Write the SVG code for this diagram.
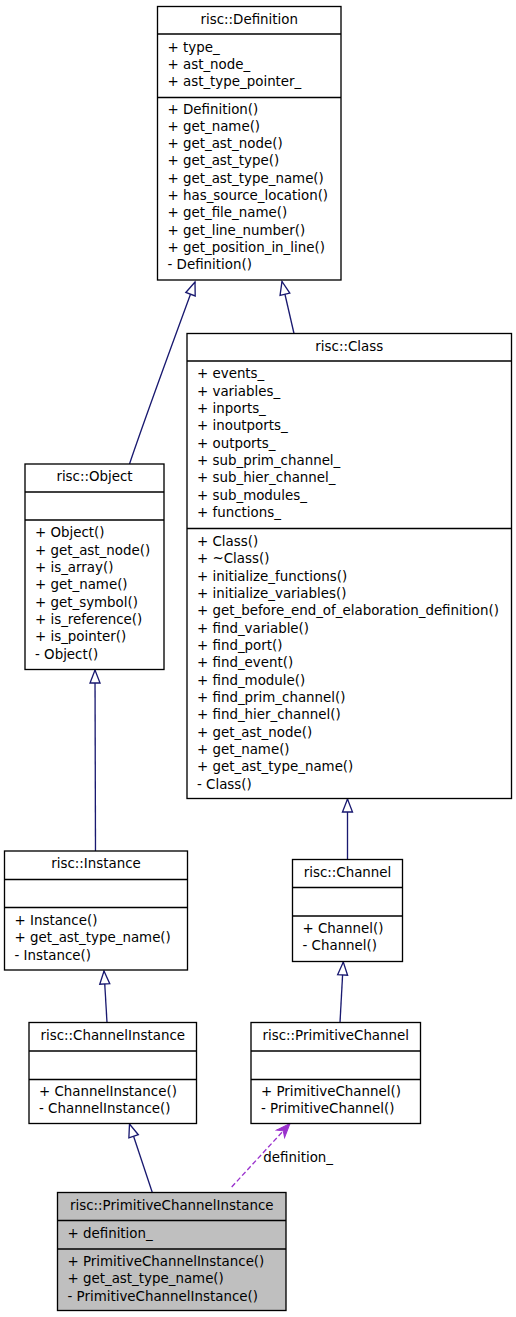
<svg xmlns="http://www.w3.org/2000/svg" width="516" height="1317" viewBox="0 0 516 1317">
<style>
  .box { fill: #ffffff; stroke: #000000; stroke-width: 1.33; }
  .cur { fill: #bfbfbf; }
  .sep { stroke: #000000; stroke-width: 1.33; }
  text { font-family: "DejaVu Sans", Verdana, sans-serif; font-size: 13.4px; fill: #000000; }
  .t { text-anchor: middle; }
  .inh { fill: none; stroke: #191970; stroke-width: 1.33; marker-end: url(#tri); }
  .use { fill: none; stroke: #9a32cd; stroke-width: 1.33; stroke-dasharray: 5,2.7; marker-end: url(#vee); }
</style>
<defs>
  <marker id="tri" markerUnits="userSpaceOnUse" markerWidth="18" markerHeight="14" refX="15" refY="7" orient="auto">
    <path d="M2,2 L15,7 L2,12 Z" fill="#ffffff" stroke="#191970" stroke-width="1.33"/>
  </marker>
  <marker id="vee" markerUnits="userSpaceOnUse" markerWidth="18" markerHeight="14" refX="15" refY="7" orient="auto">
    <path d="M1,1.5 L15,7 L1,12.5 L5,7 Z" fill="#9a32cd" stroke="#9a32cd" stroke-width="1"/>
  </marker>
</defs>

<g id="connectors">
  <path class="inh" d="M129.5,464 C145,418 170,350 195,282"/>
  <path class="inh" d="M294,333.5 L282,281.5"/>
  <path class="inh" d="M95.5,851 L95,670"/>
  <path class="inh" d="M347.5,859.5 L347.5,799"/>
  <path class="inh" d="M107,1022.5 L104,971"/>
  <path class="inh" d="M340,1022.5 L343.3,962"/>
  <path class="inh" d="M152.3,1192.5 L129.5,1124"/>
  <path class="use" d="M231.7,1187 L290,1123.5"/>
  <text x="263.3" y="1161.7">definition_</text>
</g>

<g id="Definition">
  <rect class="box" x="157.5" y="6.5" width="183.5" height="273.5"/>
  <line class="sep" x1="157.5" y1="34" x2="341" y2="34"/>
  <line class="sep" x1="157.5" y1="97.5" x2="341" y2="97.5"/>
  <text class="t" x="249.25" y="24">risc::Definition</text>
  <text x="167.5" y="51.7">+ type_<tspan x="167.5" dy="17.33">+ ast_node_</tspan><tspan x="167.5" dy="17.33">+ ast_type_pointer_</tspan></text>
  <text x="167.5" y="113.5">+ Definition()<tspan x="167.5" dy="17.33">+ get_name()</tspan><tspan x="167.5" dy="17.33">+ get_ast_node()</tspan><tspan x="167.5" dy="17.33">+ get_ast_type()</tspan><tspan x="167.5" dy="17.33">+ get_ast_type_name()</tspan><tspan x="167.5" dy="17.33">+ has_source_location()</tspan><tspan x="167.5" dy="17.33">+ get_file_name()</tspan><tspan x="167.5" dy="17.33">+ get_line_number()</tspan><tspan x="167.5" dy="17.33">+ get_position_in_line()</tspan><tspan x="167.5" dy="17.33">- Definition()</tspan></text>
</g>

<g id="Class">
  <rect class="box" x="187" y="333.5" width="324.5" height="465"/>
  <line class="sep" x1="187" y1="361" x2="511.5" y2="361"/>
  <line class="sep" x1="187" y1="528.5" x2="511.5" y2="528.5"/>
  <text class="t" x="349.25" y="350.5">risc::Class</text>
  <text x="197" y="378.3">+ events_<tspan x="197" dy="17.33">+ variables_</tspan><tspan x="197" dy="17.33">+ inports_</tspan><tspan x="197" dy="17.33">+ inoutports_</tspan><tspan x="197" dy="17.33">+ outports_</tspan><tspan x="197" dy="17.33">+ sub_prim_channel_</tspan><tspan x="197" dy="17.33">+ sub_hier_channel_</tspan><tspan x="197" dy="17.33">+ sub_modules_</tspan><tspan x="197" dy="17.33">+ functions_</tspan></text>
  <text x="197" y="546">+ Class()<tspan x="197" dy="17.33">+ ~Class()</tspan><tspan x="197" dy="17.33">+ initialize_functions()</tspan><tspan x="197" dy="17.33">+ initialize_variables()</tspan><tspan x="197" dy="17.33">+ get_before_end_of_elaboration_definition()</tspan><tspan x="197" dy="17.33">+ find_variable()</tspan><tspan x="197" dy="17.33">+ find_port()</tspan><tspan x="197" dy="17.33">+ find_event()</tspan><tspan x="197" dy="17.33">+ find_module()</tspan><tspan x="197" dy="17.33">+ find_prim_channel()</tspan><tspan x="197" dy="17.33">+ find_hier_channel()</tspan><tspan x="197" dy="17.33">+ get_ast_node()</tspan><tspan x="197" dy="17.33">+ get_name()</tspan><tspan x="197" dy="17.33">+ get_ast_type_name()</tspan><tspan x="197" dy="17.33">- Class()</tspan></text>
</g>

<g id="Object">
  <rect class="box" x="25" y="464" width="139" height="205.5"/>
  <line class="sep" x1="25" y1="492" x2="164" y2="492"/>
  <line class="sep" x1="25" y1="520" x2="164" y2="520"/>
  <text class="t" x="94.5" y="481">risc::Object</text>
  <text x="35" y="537.3">+ Object()<tspan x="35" dy="17.33">+ get_ast_node()</tspan><tspan x="35" dy="17.33">+ is_array()</tspan><tspan x="35" dy="17.33">+ get_name()</tspan><tspan x="35" dy="17.33">+ get_symbol()</tspan><tspan x="35" dy="17.33">+ is_reference()</tspan><tspan x="35" dy="17.33">+ is_pointer()</tspan><tspan x="35" dy="17.33">- Object()</tspan></text>
</g>

<g id="Instance">
  <rect class="box" x="4.5" y="851" width="183" height="119"/>
  <line class="sep" x1="4.5" y1="879.5" x2="187.5" y2="879.5"/>
  <line class="sep" x1="4.5" y1="907.5" x2="187.5" y2="907.5"/>
  <text class="t" x="96" y="868">risc::Instance</text>
  <text x="14.5" y="925">+ Instance()<tspan x="14.5" dy="17.33">+ get_ast_type_name()</tspan><tspan x="14.5" dy="17.33">- Instance()</tspan></text>
</g>

<g id="Channel">
  <rect class="box" x="292.5" y="859.5" width="110" height="102"/>
  <line class="sep" x1="292.5" y1="887.5" x2="402.5" y2="887.5"/>
  <line class="sep" x1="292.5" y1="916" x2="402.5" y2="916"/>
  <text class="t" x="347.5" y="876.5">risc::Channel</text>
  <text x="302.5" y="932.5">+ Channel()<tspan x="302.5" dy="17.33">- Channel()</tspan></text>
</g>

<g id="ChannelInstance">
  <rect class="box" x="29" y="1022.5" width="167.5" height="101"/>
  <line class="sep" x1="29" y1="1051" x2="196.5" y2="1051"/>
  <line class="sep" x1="29" y1="1079.5" x2="196.5" y2="1079.5"/>
  <text class="t" x="112.75" y="1039.5">risc::ChannelInstance</text>
  <text x="39" y="1095.8">+ ChannelInstance()<tspan x="39" dy="17.33">- ChannelInstance()</tspan></text>
</g>

<g id="PrimitiveChannel">
  <rect class="box" x="251" y="1022.5" width="169.5" height="101"/>
  <line class="sep" x1="251" y1="1051" x2="420.5" y2="1051"/>
  <line class="sep" x1="251" y1="1079.5" x2="420.5" y2="1079.5"/>
  <text class="t" x="335.75" y="1039.5">risc::PrimitiveChannel</text>
  <text x="261" y="1095.8">+ PrimitiveChannel()<tspan x="261" dy="17.33">- PrimitiveChannel()</tspan></text>
</g>

<g id="PrimitiveChannelInstance">
  <rect class="box cur" x="57.5" y="1192.5" width="228.5" height="118"/>
  <line class="sep" x1="57.5" y1="1220.5" x2="286" y2="1220.5"/>
  <line class="sep" x1="57.5" y1="1249" x2="286" y2="1249"/>
  <text class="t" x="171.75" y="1209.5">risc::PrimitiveChannelInstance</text>
  <text x="67.5" y="1237.5">+ definition_</text>
  <text x="67.5" y="1266">+ PrimitiveChannelInstance()<tspan x="67.5" dy="17.33">+ get_ast_type_name()</tspan><tspan x="67.5" dy="17.33">- PrimitiveChannelInstance()</tspan></text>
</g>
</svg>
